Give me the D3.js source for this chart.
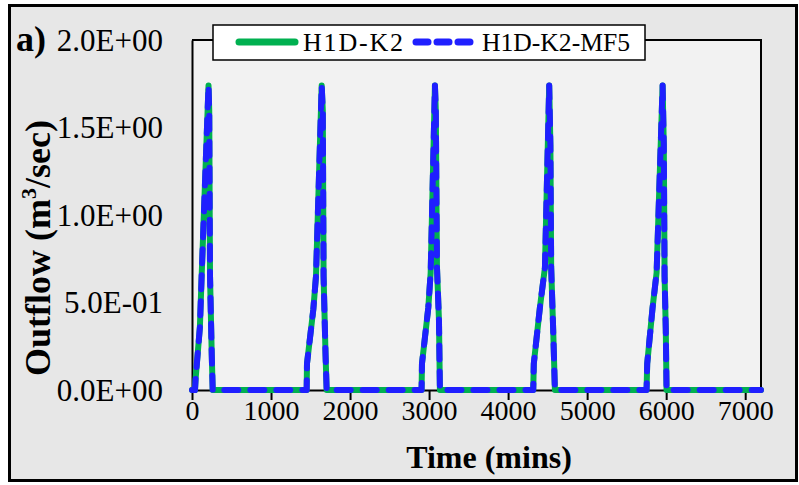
<!DOCTYPE html>
<html>
<head>
<meta charset="utf-8">
<script src="https://cdn.jsdelivr.net/npm/d3@7"></script>
<style>
  html, body { margin: 0; padding: 0; background: #ffffff; }
  svg { display: block; }
  text { font-family: "Liberation Serif", "Times New Roman", serif; fill: #000; }
</style>
</head>
<body>
<svg id="chart" width="799" height="485"></svg>
<script>
// ---- data ----
const seriesNames = ["H1D-K2", "H1D-K2-MF5"];
const xTicks = [0, 1000, 2000, 3000, 4000, 5000, 6000, 7000];
const yTicks = [0, 0.5, 1.0, 1.5, 2.0];
const yTickLabels = ["0.0E+00", "5.0E-01", "1.0E+00", "1.5E+00", "2.0E+00"];

const timeMins = [
  0, 38, 45, 100, 122, 209, 218, 228, 250, 262,
  1451, 1455, 1535, 1569, 1641, 1655, 1665, 1690, 1704,
  2905, 2910, 2990, 3020, 3074, 3085, 3100, 3125, 3137,
  4318, 4325, 4402, 4466, 4520, 4535, 4545, 4570, 4592,
  5752, 5760, 5828, 5879, 5955, 5970, 5980, 5995, 6005,
  7200
];
const outflowK2 = [
  0, 0, 0.06, 0.36, 0.65, 1.74, 1.60, 0.65, 0.20, 0,
  0, 0.15, 0.46, 0.65, 1.74, 1.60, 0.65, 0.20, 0,
  0, 0.15, 0.47, 0.67, 1.74, 1.60, 0.70, 0.40, 0,
  0, 0.15, 0.47, 0.70, 1.74, 1.40, 0.70, 0.35, 0,
  0, 0.15, 0.47, 0.67, 1.74, 1.40, 0.65, 0.35, 0,
  0
];
const outflowK2MF5 = [
  0, 0, 0.06, 0.36, 0.65, 1.74, 1.60, 0.65, 0.20, 0,
  0, 0.15, 0.46, 0.65, 1.74, 1.60, 0.65, 0.20, 0,
  0, 0.15, 0.47, 0.67, 1.74, 1.60, 0.70, 0.40, 0,
  0, 0.15, 0.47, 0.70, 1.74, 1.40, 0.70, 0.35, 0,
  0, 0.15, 0.47, 0.67, 1.74, 1.40, 0.65, 0.35, 0,
  0
];

// ---- layout ----
const svg = d3.select("#chart");
const plot = { left: 192, right: 761, top: 40, bottom: 390 };

// outer frame
svg.append("rect").attr("x", 9.5).attr("y", 5.5).attr("width", 787).attr("height", 475)
  .attr("fill", "#e7e7e7").attr("stroke", "#000").attr("stroke-width", 3);

// plot area
svg.append("rect").attr("x", plot.left).attr("y", plot.top)
  .attr("width", plot.right - plot.left).attr("height", plot.bottom - plot.top)
  .attr("fill", "#f2f2f2");

const x = d3.scaleLinear().domain([0, 7200]).range([plot.left, plot.right]);
const y = d3.scaleLinear().domain([0, 2.0]).range([plot.bottom, plot.top]);

// top & right border
svg.append("path")
  .attr("d", `M${plot.left},${plot.top}H${plot.right}V${plot.bottom}`)
  .attr("fill", "none").attr("stroke", "#000").attr("stroke-width", 2);

// y axis
const yAxis = d3.axisLeft(y).tickValues(yTicks).tickSize(0)
  .tickFormat((d, i) => yTickLabels[i]).tickPadding(29);
const gy = svg.append("g").attr("transform", `translate(${plot.left},0)`).call(yAxis);
gy.select(".domain").attr("stroke", "#000").attr("stroke-width", 2);
gy.selectAll("text").attr("font-size", 31).attr("font-family", "Liberation Serif")
  .attr("dy", "0.33em");

// x axis
const xAxis = d3.axisBottom(x).tickValues(xTicks).tickSize(10).tickSizeOuter(0)
  .tickFormat(d3.format("d")).tickPadding(0);
const gx = svg.append("g").attr("transform", `translate(0,${plot.bottom})`).call(xAxis);
gx.select(".domain").attr("stroke", "#000").attr("stroke-width", 2);
gx.selectAll(".tick line").attr("stroke", "#000").attr("stroke-width", 2);
gx.selectAll("text").attr("font-size", 28).attr("font-family", "Liberation Serif");

// data lines
const rows = timeMins.map((t, i) => ({ t, a: outflowK2[i], b: outflowK2MF5[i] }));
const lineA = d3.line().x(d => x(d.t)).y(d => y(d.a));
const lineB = d3.line().x(d => x(d.t)).y(d => y(d.b));
svg.append("path").datum(rows).attr("d", lineA)
  .attr("fill", "none").attr("stroke", "#00b050").attr("stroke-width", 6)
  .attr("stroke-linejoin", "round").attr("stroke-linecap", "round");
svg.append("path").datum(rows).attr("d", lineB)
  .attr("fill", "none").attr("stroke", "#1f1fff").attr("stroke-width", 6)
  .attr("stroke-dasharray", "14,12").attr("stroke-linecap", "round")
  .attr("stroke-linejoin", "round");

// axis titles
svg.append("text").attr("x", 489).attr("y", 468).attr("text-anchor", "middle")
  .attr("font-weight", "bold").attr("font-size", 32).text("Time (mins)");

const yt = svg.append("text").attr("text-anchor", "middle")
  .attr("transform", `translate(50,248) rotate(-90)`)
  .attr("font-weight", "bold").attr("font-size", 36);
yt.append("tspan").text("Outflow (m");
yt.append("tspan").attr("font-size", 22).attr("dy", -14).text("3");
yt.append("tspan").attr("dy", 14).text("/sec)");

// panel label
svg.append("text").attr("x", 16).attr("y", 51).attr("font-weight", "bold")
  .attr("font-size", 36).text("a)");

// legend
const lg = svg.append("g");
lg.append("rect").attr("x", 213).attr("y", 25).attr("width", 432).attr("height", 35)
  .attr("fill", "#fff").attr("stroke", "#000").attr("stroke-width", 1.5);
lg.append("line").attr("x1", 239).attr("x2", 295).attr("y1", 42).attr("y2", 42)
  .attr("stroke", "#00b050").attr("stroke-width", 7).attr("stroke-linecap", "round");
lg.append("text").attr("x", 303).attr("y", 51).attr("font-size", 26)
  .attr("textLength", 100).attr("lengthAdjust", "spacing").text(seriesNames[0]);
lg.append("line").attr("x1", 416).attr("x2", 476).attr("y1", 42).attr("y2", 42)
  .attr("stroke", "#1f1fff").attr("stroke-width", 7).attr("stroke-linecap", "round")
  .attr("stroke-dasharray", "12,9");
lg.append("text").attr("x", 482).attr("y", 51).attr("font-size", 25)
  .attr("textLength", 148).attr("lengthAdjust", "spacingAndGlyphs").text(seriesNames[1]);
</script>
</body>
</html>
